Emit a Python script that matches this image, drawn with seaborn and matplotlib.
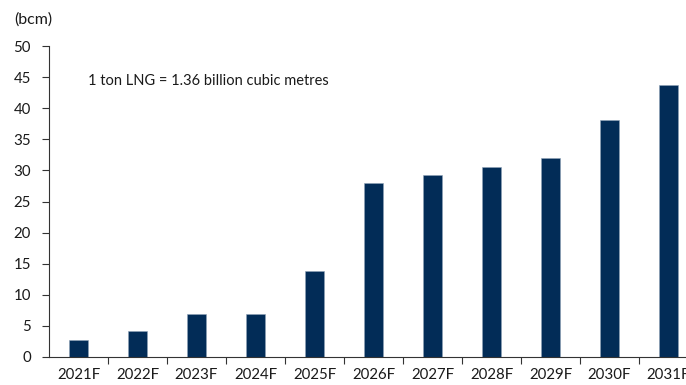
import matplotlib
matplotlib.use("Agg")
import matplotlib.pyplot as plt
import seaborn as sns
import pandas as pd
import numpy as np

years = ["2021F", "2022F", "2023F", "2024F", "2025F", "2026F", "2027F", "2028F", "2029F", "2030F", "2031F"]
values = [2.7, 4.2, 6.9, 6.9, 13.8, 27.9, 29.2, 30.6, 32.0, 38.1, 43.7]
yticks = [0, 5, 10, 15, 20, 25, 30, 35, 40, 45, 50]

sns.set_theme(style="white")
plt.rcParams['font.family'] = ['Lato', 'DejaVu Sans']

W, H = 686, 385
fig = plt.figure(figsize=(W / 100, H / 100), dpi=100)
left, right, top, bottom = 49, 698, 46, 357
ax = fig.add_axes([left / W, (H - bottom) / H, (right - left) / W, (bottom - top) / H])

df = pd.DataFrame({"year": years, "value": values})
sns.barplot(data=df, x="year", y="value", color="#022c57", width=0.31, ax=ax,
            saturation=1, edgecolor="#8fa3b8", linewidth=0.4)

ax.set_xlim(-0.5, len(years) - 0.5)
ax.set_ylim(0, 50)
ax.set_yticks(yticks)
ax.set_yticklabels([str(t) for t in yticks], fontsize=10.8, color="#1a1a1a")
ax.set_xticks(range(len(years)))
ax.set_xticklabels(years, fontsize=10.8, color="#1a1a1a")
ax.set_xticks(np.arange(len(years)) + 0.5, minor=True)
ax.tick_params(axis="x", which="major", length=0, pad=8)
ax.tick_params(axis="x", which="minor", length=5, width=0.8, color="#333333", direction="out", bottom=True)
ax.tick_params(axis="y", length=5, width=0.8, color="#333333", direction="out", left=True, pad=8)
ax.set_xlabel("")
ax.set_ylabel("")
for s in ["top", "right"]:
    ax.spines[s].set_visible(False)
for s in ["left", "bottom"]:
    ax.spines[s].set_color("#333333")
    ax.spines[s].set_linewidth(0.8)

fig.text(14 / W, 1 - 20 / H, "(bcm)", fontsize=11.5, color="#1a1a1a", va="center", ha="left")
fig.text(88 / W, 1 - 81 / H, "1 ton LNG = 1.36 billion cubic metres", fontsize=10.5,
         color="#1a1a1a", va="center", ha="left")

fig.savefig("out.png", dpi=100)
